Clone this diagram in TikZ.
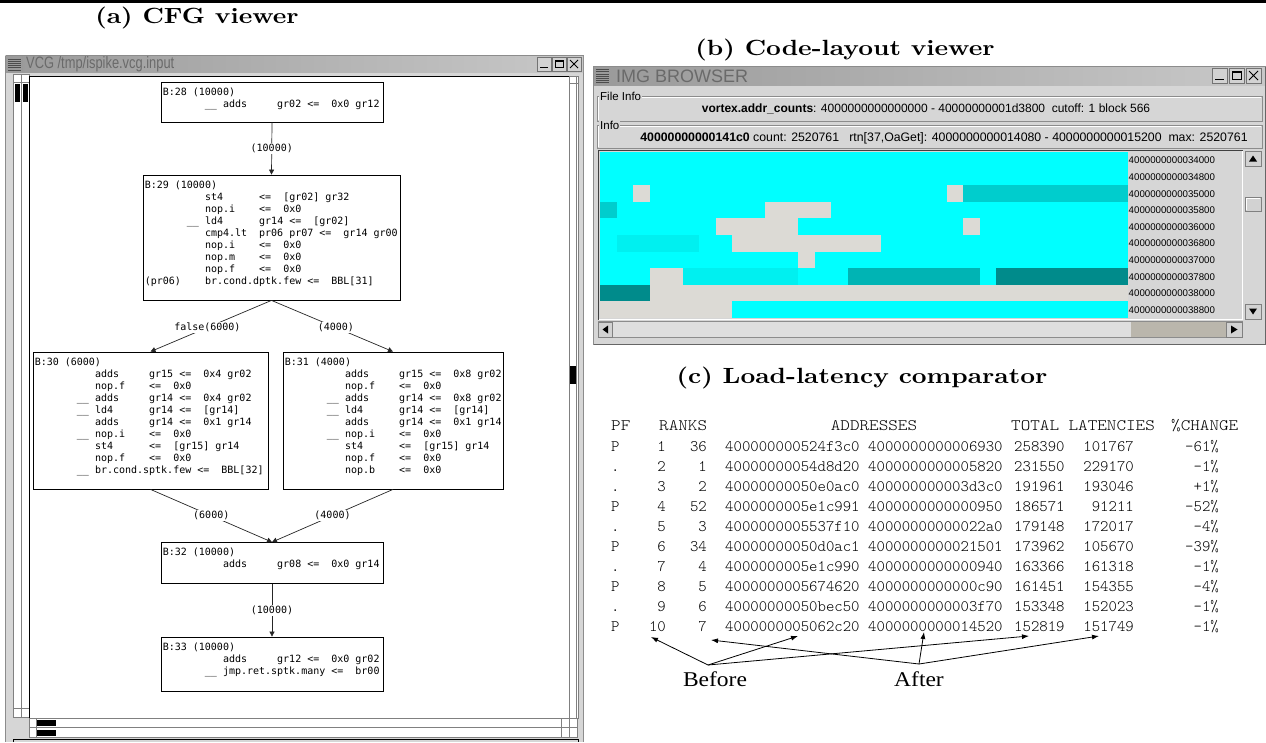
\documentclass[tikz,border=0pt]{standalone}
\usepackage{fontspec}
\usetikzlibrary{arrows.meta,calc}
\newfontfamily\capfont[FakeStretch=1.17]{lmroman10-bold.otf}
\newfontfamily\vcgfont{DejaVu Sans Mono}
\newfontfamily\uifont{Liberation Sans}
\newfontfamily\uicond[FakeStretch=0.78]{Liberation Sans}
\newfontfamily\tabfont{lmmonolt10-regular.otf}
\newfontfamily\tabhead[FakeStretch=1.14]{lmmonolt10-regular.otf}
\newfontfamily\annfont[FakeStretch=1.12]{Liberation Serif}

\definecolor{winbg}{HTML}{D6D6D6}
\definecolor{titleL}{HTML}{9A9A9A}
\definecolor{titleR}{HTML}{C8C8C8}
\definecolor{titletext}{HTML}{6A6A6A}
\definecolor{btnbg}{HTML}{D2D2D2}
\definecolor{cellcyan}{HTML}{00FFFF}
\definecolor{cellcyanB}{HTML}{00F0F0}
\definecolor{tealA}{HTML}{00CDCD}
\definecolor{tealB}{HTML}{00B4B4}
\definecolor{tealC}{HTML}{008B8B}
\definecolor{cellgray}{HTML}{DCDAD5}
\definecolor{troughA}{HTML}{DEDEDE}
\definecolor{troughB}{HTML}{BAB6AC}

\tikzset{
  captitle/.style={font=\capfont\fontsize{22}{26}\selectfont, inner sep=0},
  blk/.style={draw=black, line width=0.8pt, fill=white, inner sep=0},
  code/.style={font=\vcgfont\fontsize{10}{12}\selectfont, align=left, inner sep=0, anchor=north west},
  cfgedge/.style={draw=black!85, line width=0.7pt, -{Triangle[length=5pt,width=5pt]}},
  elab/.style={font=\vcgfont\fontsize{10}{11}\selectfont, fill=white, inner sep=1pt},
  wbtn/.style={draw=black!55, fill=btnbg, line width=0.6pt},
  bevel/.style={draw=black!50, line width=0.6pt},
  ui/.style={font=\uifont\fontsize{11.5}{13}\selectfont, inner sep=0},
  addrlab/.style={font=\uifont\fontsize{9.7}{11}\selectfont, inner sep=0, anchor=west},
  tab/.style={font=\tabfont\fontsize{16}{18}\selectfont, inner sep=0},
  thead/.style={font=\tabhead\fontsize{16}{18}\selectfont, inner sep=0},
  ann/.style={font=\annfont\fontsize{21}{24}\selectfont, inner sep=0},
  annarrow/.style={draw=black, line width=0.8pt, -{Latex[length=7pt,width=5pt]}},
}

\begin{document}
\begin{tikzpicture}[x=1pt,y=-1pt]
\useasboundingbox (0,0) rectangle (1266,742);
\fill[white] (0,0) rectangle (1266,742);
\fill[black] (0,0) rectangle (1266,3);

% ---------- captions ----------
\node[captitle] (capa) at (197,18) {(a) CFG viewer};
\node[captitle] (capb) at (845,50) {(b) Code-layout viewer};
\node[captitle] (capc) at (862,378) {(c) Load-latency comparator};

% ---------- VCG window frame ----------
\fill[winbg] (5,55) rectangle (584,742);
\draw[black!45, line width=0.6pt] (5.5,55.5) -- (5.5,742) (583.5,55.5) -- (583.5,742) (5.5,55.5) -- (583.5,55.5);
\shade[left color=titleL, right color=titleR] (6,56) rectangle (583,72);
\foreach \k in {0,...,5} \draw[black!70, line width=0.7pt] (8,{59+2.2*\k}) -- (21,{59+2.2*\k});
\draw[black!40] (22.5,56) -- (22.5,72);
\node[anchor=west, font=\uicond\fontsize{16.5}{16.5}\selectfont, text=titletext, inner sep=0] (vcgtitle) at (26,64.5) {VCG /tmp/ispike.vcg.input};
\draw[wbtn] (537,57) rectangle (551,71);
\draw[wbtn] (552,57) rectangle (566,71);
\draw[wbtn] (567,57) rectangle (581,71);
\draw[black, line width=1.6pt] (540,67.5) -- (548,67.5);
\draw[black, line width=0.9pt] (555,60.5) rectangle (563,67.5);
\draw[black, line width=1.6pt] (555,61) -- (563,61);
\draw[black, line width=1pt] (570,60) -- (578,68) (578,60) -- (570,68);

% left scroll strips
\draw[black!50, fill=white, line width=0.6pt] (13,74) rectangle (21,717);
\draw[black!50, fill=white, line width=0.6pt] (21,74) rectangle (29,717);
\draw[black!50, line width=0.6pt] (13,82) -- (29,82) (13,708) -- (29,708);
\fill[black] (14.5,84) rectangle (19.5,102);
\fill[black] (22.5,84) rectangle (27.5,102);
% canvas
\fill[white] (29,76) rectangle (569,718);
\draw[black, line width=1pt] (29,76) rectangle (569,718);
% right scroll strip
\draw[black!50, fill=white, line width=0.6pt] (569,76) rectangle (578,718);
\draw[black!50, line width=0.6pt] (569,83) -- (578,83) (576,76) -- (576,718);
\fill[black] (570,366) rectangle (576,384);
% bottom scroll strips
\draw[black!50, fill=white, line width=0.6pt] (29,718) rectangle (577,727.5);
\draw[black!50, fill=white, line width=0.6pt] (29,727.5) rectangle (577,737);
\draw[black!50, line width=0.6pt] (36,718) -- (36,737) (561,718) -- (561,737) (569,718) -- (569,737);
\fill[black] (37,720) rectangle (56,726);
\fill[black] (37,729.5) rectangle (56,735.5);
\draw[black, line width=1pt] (13,742) -- (13,739.5) -- (578,739.5) -- (578,742);

% ---------- CFG blocks ----------
\node[blk, minimum width=222, minimum height=40] (b28) at (272,102) {};
\node[code] (t28) at ($(b28.north west)+(2,6)$) {B:28~(10000)\\
~~~~~~~\_\_~adds~~~~~gr02~<=~~0x0~gr12};

\node[blk, minimum width=257, minimum height=125] (b29) at (271.5,237.5) {};
\node[code] (t29) at ($(b29.north west)+(2,6)$) {B:29~(10000)\\
~~~~~~~~~~st4~~~~~~<=~~[gr02]~gr32\\
~~~~~~~~~~nop.i~~~~<=~~0x0\\
~~~~~~~\_\_~ld4~~~~~~gr14~<=~~[gr02]\\
~~~~~~~~~~cmp4.lt~~pr06~pr07~<=~~gr14~gr00\\
~~~~~~~~~~nop.i~~~~<=~~0x0\\
~~~~~~~~~~nop.m~~~~<=~~0x0\\
~~~~~~~~~~nop.f~~~~<=~~0x0\\
(pr06)~~~~br.cond.dptk.few~<=~~BBL[31]};

\node[blk, minimum width=235, minimum height=137] (b30) at (150.5,420.5) {};
\node[code] (t30) at ($(b30.north west)+(2,6)$) {B:30~(6000)\\
~~~~~~~~~~adds~~~~~gr15~<=~~0x4~gr02\\
~~~~~~~~~~nop.f~~~~<=~~0x0\\
~~~~~~~\_\_~adds~~~~~gr14~<=~~0x4~gr02\\
~~~~~~~\_\_~ld4~~~~~~gr14~<=~~[gr14]\\
~~~~~~~~~~adds~~~~~gr14~<=~~0x1~gr14\\
~~~~~~~\_\_~nop.i~~~~<=~~0x0\\
~~~~~~~~~~st4~~~~~~<=~~[gr15]~gr14\\
~~~~~~~~~~nop.f~~~~<=~~0x0\\
~~~~~~~\_\_~br.cond.sptk.few~<=~~BBL[32]};

\node[blk, minimum width=220, minimum height=137] (b31) at (393,420.5) {};
\node[code] (t31) at ($(b31.north west)+(2,6)$) {B:31~(4000)\\
~~~~~~~~~~adds~~~~~gr15~<=~~0x8~gr02\\
~~~~~~~~~~nop.f~~~~<=~~0x0\\
~~~~~~~\_\_~adds~~~~~gr14~<=~~0x8~gr02\\
~~~~~~~\_\_~ld4~~~~~~gr14~<=~~[gr14]\\
~~~~~~~~~~adds~~~~~gr14~<=~~0x1~gr14\\
~~~~~~~\_\_~nop.i~~~~<=~~0x0\\
~~~~~~~~~~st4~~~~~~<=~~[gr15]~gr14\\
~~~~~~~~~~nop.f~~~~<=~~0x0\\
~~~~~~~~~~nop.b~~~~<=~~0x0};

\node[blk, minimum width=222, minimum height=41] (b32) at (272,563) {};
\node[code] (t32) at ($(b32.north west)+(2,6)$) {B:32~(10000)\\
~~~~~~~~~~adds~~~~~gr08~<=~~0x0~gr14};

\node[blk, minimum width=222, minimum height=54] (b33) at (272,664) {};
\node[code] (t33) at ($(b33.north west)+(2,6)$) {B:33~(10000)\\
~~~~~~~~~~adds~~~~~gr12~<=~~0x0~gr02\\
~~~~~~~\_\_~jmp.ret.sptk.many~<=~~br00};

% CFG edges
\draw[cfgedge] (b28.south) -- (b29.north) node[midway, elab] {(10000)};
\draw[cfgedge] (b29.south) -- (b30.north) node[pos=0.53, elab] {false(6000)};
\draw[cfgedge] (b29.south) -- (b31.north) node[pos=0.53, elab] {(4000)};
\draw[cfgedge] (b30.south) -- (b32.north) node[pos=0.5, elab] {(6000)};
\draw[cfgedge] (b31.south) -- (b32.north) node[pos=0.5, elab] {(4000)};
\draw[cfgedge] (b32.south) -- (b33.north) node[midway, elab] {(10000)};

% ---------- IMG BROWSER window ----------
\fill[winbg] (593,66) rectangle (1266,345);
\draw[black!45, line width=0.6pt] (593.5,66.5) rectangle (1265.5,344.5);
\shade[left color=titleL, right color=titleR] (594,67) rectangle (1265,85);
\foreach \k in {0,...,6} \draw[black!70, line width=0.7pt] (596,{69.5+2.2*\k}) -- (609,{69.5+2.2*\k});
\node[anchor=west, font=\uifont\fontsize{18}{18}\selectfont, text=titletext, inner sep=0] (imgtitle) at (616,76) {IMG BROWSER};
\draw[wbtn] (1212,68) rectangle (1227,83);
\draw[wbtn] (1229,68) rectangle (1244,83);
\draw[wbtn] (1246,68) rectangle (1261,83);
\draw[black, line width=1.6pt] (1215,79.5) -- (1224,79.5);
\draw[black, line width=0.9pt] (1232,71.5) rectangle (1241,79.5);
\draw[black, line width=1.6pt] (1232,72) -- (1241,72);
\draw[black, line width=1pt] (1249,71) -- (1258,80) (1258,71) -- (1249,80);

% group boxes
\draw[black!45, line width=0.6pt] (597,96) rectangle (1262,121);
\draw[white, line width=0.6pt] (598,97) -- (1261,97) (598,97) -- (598,120);
\node[ui, anchor=west, fill=winbg, inner xsep=1pt] (fileinfo) at (599,96) {File Info};
\node[ui, font=\uifont\fontsize{12}{14}\selectfont] (fileline) at (926,109)
  {\textbf{vortex.addr\_counts}: 4000000000000000 - 40000000001d3800\ \ cutoff: 1 block 566};
\draw[black!45, line width=0.6pt] (597,125) rectangle (1262,148);
\draw[white, line width=0.6pt] (598,126) -- (1261,126) (598,126) -- (598,147);
\node[ui, anchor=west, fill=winbg, inner xsep=1pt] (infolab) at (599,125) {Info};
\node[ui, font=\uifont\fontsize{12.3}{14}\selectfont] (infoline) at (944,138)
  {\textbf{40000000000141c0} count: 2520761\ \ \ rtn[37,OaGet]: 4000000000014080 - 4000000000015200\ \ max: 2520761};

% canvas frame
\fill[winbg] (598,150) rectangle (1243,320);
\draw[black!75, line width=1pt] (598.5,320) -- (598.5,150.5) -- (1243,150.5);
\draw[white, line width=1pt] (598.5,319.5) -- (1242.5,319.5) -- (1242.5,150.5);
\begin{scope}
  \clip (600,152) rectangle (1241,318);
  \fill[cellcyan] (600,152) rectangle (1128,318);
  \foreach \r/\ca/\cb/\col in {
      2/2/2/cellgray, 2/21/21/cellgray, 2/22/31/tealA,
      3/0/0/tealA, 3/10/13/cellgray,
      4/7/11/cellgray, 4/22/22/cellgray,
      5/1/5/cellcyanB, 5/8/16/cellgray,
      6/12/12/cellgray,
      7/3/4/cellgray, 7/5/11/cellcyanB, 7/15/22/tealB, 7/24/31/tealC,
      8/0/2/tealC, 8/3/31/cellgray,
      9/0/7/cellgray}
    \fill[\col] ({600+16.5*\ca},{152+16.6*\r}) rectangle ({600+16.5*(\cb+1)},{152+16.6*(\r+1)});
  \foreach \r/\lab in {0/34000,1/34800,2/35000,3/35800,4/36000,5/36800,6/37000,7/37800,8/38000,9/38800}
    \node[addrlab] (addr\r) at (1128.5,{160.5+16.6*\r}) {40000000000\lab};
\end{scope}

% vertical scrollbar
\fill[winbg] (1245,150) rectangle (1262,320);
\draw[bevel, fill=btnbg] (1245,151) rectangle (1261,166);
\fill[black] (1249,161.5) -- (1257,161.5) -- (1253,155.5) -- cycle;
\draw[bevel, fill=btnbg] (1245,304) rectangle (1261,319);
\fill[black] (1249,308.5) -- (1257,308.5) -- (1253,314.5) -- cycle;
\draw[bevel, fill=btnbg] (1245,197) rectangle (1261,211);
\draw[white, line width=0.8pt] (1246,210) -- (1246,198) -- (1260,198);
% horizontal scrollbar
\fill[troughA] (612,322) rectangle (1131,337);
\fill[troughB] (1131,322) rectangle (1226,337);
\draw[black!45, line width=0.6pt] (598,321.5) rectangle (1242,337.5);
\draw[bevel, fill=btnbg] (598,322) rectangle (612,337);
\fill[black] (608,325.5) -- (608,333.5) -- (602.5,329.5) -- cycle;
\draw[bevel, fill=btnbg] (1226,322) rectangle (1242,337);
\fill[black] (1231,325.5) -- (1231,333.5) -- (1237.5,329.5) -- cycle;
\draw[black!60, line width=0.8pt] (593.5,344.5) -- (1265.5,344.5) -- (1265.5,66.5);

% ---------- latency table ----------
\node[thead, anchor=base west] (hpf) at (611,430) {PF};
\node[thead, anchor=base west] (hrank) at (659,430) {RANKS};
\node[thead, anchor=base] (haddr) at (874,430) {ADDRESSES};
\node[thead, anchor=base west] (hlat) at (1011,430) {TOTAL LATENCIES};
\node[thead, anchor=base west] (hpct) at (1171,430) {\%CHANGE};
\foreach \i/\pf/\ra/\rb/\aa/\ab/\ta/\tb/\pc in {
  1/P/1/36/400000000524f3c0/4000000000006930/258390/101767/-61,
  2/./2/1/40000000054d8d20/4000000000005820/231550/229170/-1,
  3/./3/2/40000000050e0ac0/400000000003d3c0/191961/193046/+1,
  4/P/4/52/4000000005e1c991/4000000000000950/186571/91211/-52,
  5/./5/3/4000000005537f10/40000000000022a0/179148/172017/-4,
  6/P/6/34/40000000050d0ac1/4000000000021501/173962/105670/-39,
  7/./7/4/4000000005e1c990/4000000000000940/163366/161318/-1,
  8/P/8/5/4000000005674620/4000000000000c90/161451/154355/-4,
  9/./9/6/40000000050bec50/4000000000003f70/153348/152023/-1,
  10/P/10/7/4000000005062c20/4000000000014520/152819/151749/-1}
{
  \pgfmathsetmacro\yy{451+20.1*(\i-1)}
  \node[tab, anchor=base west] (pf\i) at (611,\yy) {\pf};
  \node[tab, anchor=base east] (ra\i) at (666,\yy) {\ra};
  \node[tab, anchor=base east] (rb\i) at (707,\yy) {\rb};
  \node[tab, anchor=base west] (aa\i) at (725,\yy) {\aa};
  \node[tab, anchor=base west] (ab\i) at (868,\yy) {\ab};
  \node[tab, anchor=base west] (ta\i) at (1014,\yy) {\ta};
  \node[tab, anchor=base east] (tb\i) at (1134,\yy) {\tb};
  \node[tab, anchor=base east] (pc\i) at (1219,\yy) {\pc\%};
}

% annotations
\node[ann] (before) at (715,679) {Before};
\node[ann] (after) at (919,679) {After};
\coordinate (bo) at (708,665);
\coordinate (ao) at (919,664);
\coordinate (bt1) at (651,637);
\coordinate (bt2) at (798,636);
\coordinate (bt3) at (1029,636);
\coordinate (at1) at (711,640);
\coordinate (at2) at (924,632);
\coordinate (at3) at (1099,636);
\draw[annarrow] (bo) -- (bt1);
\draw[annarrow] (bo) -- (bt2);
\draw[annarrow] (bo) -- (bt3);
\draw[annarrow] (ao) -- (at1);
\draw[annarrow] (ao) -- (at2);
\draw[annarrow] (ao) -- (at3);
\end{tikzpicture}
\end{document}
